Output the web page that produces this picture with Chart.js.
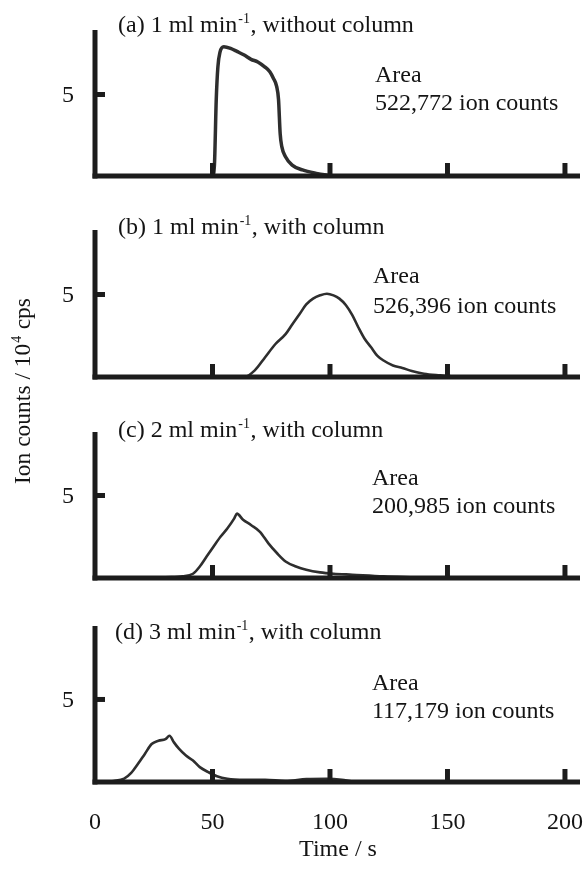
<!DOCTYPE html>
<html><head><meta charset="utf-8">
<script src="https://cdn.jsdelivr.net/npm/chart.js@4.4.1/dist/chart.umd.min.js"></script>
<style>
html,body{margin:0;padding:0;background:#fff;width:587px;height:877px;overflow:hidden;}
canvas{position:absolute;left:0;top:0;}
</style></head><body>
<canvas id="c0" width="587" height="877"></canvas>
<canvas id="c1" width="587" height="877"></canvas>
<canvas id="c2" width="587" height="877"></canvas>
<canvas id="c3" width="587" height="877"></canvas>
<script>
// ---- data ----
const timeTicks = [0, 50, 100, 150, 200];
const yTickValue = 5;
const xTitle = 'Time / s';
const yTitle = ['Ion counts / 10', '4', ' cps'];
const panelTitles = [
  ['(a) 1 ml min', '-1', ', without column'],
  ['(b) 1 ml min', '-1', ', with column'],
  ['(c) 2 ml min', '-1', ', with column'],
  ['(d) 3 ml min', '-1', ', with column']
];
const areaLabels = ['522,772 ion counts', '526,396 ion counts', '200,985 ion counts', '117,179 ion counts'];

const timeA   = [0, 50.0, 50.8, 51.6, 52.3, 53.2, 54.8, 57.7, 60.6, 63.5, 66.4, 69.3, 72.2, 74.4, 75.9, 77.3, 78.1, 78.8, 79.5, 81.0, 83.9, 88.3, 94.2, 98.5, 102, 206];
const countsA = [0, 0,    0.6,  4.7,  6.7,  7.6,  7.93, 7.83, 7.63, 7.42, 7.16, 7.0,  6.7,  6.4,  6.0,  5.5,  4.7,  2.6,  1.8,  1.2,  0.67, 0.37, 0.16, 0.06, 0,   0];

const timeB   = [0, 63.6, 68.0, 72.4, 76.8, 81.1, 84.0, 87.0, 89.9, 92.8, 95.8, 98.7, 101.5, 104.0, 106.8, 109.5, 112.1, 114.8, 117.5, 120.1, 122.8, 126.8, 130.8, 134.8, 140.0, 146.8, 153.0, 160, 206];
const countsB = [0, 0,    0.4,  1.2,  2.0,  2.6,  3.2,  3.8,  4.4,  4.75, 4.95, 5.05, 4.95,  4.75,  4.35,  3.75,  3.0,   2.3,   1.8,   1.3,   1.0,   0.7,   0.55,  0.36,  0.2,   0.1,   0.03,  0,   0];

const timeC   = [0, 25, 30.0, 37.3, 41.7, 44.6, 47.5, 50.4, 53.4, 56.3, 59.2, 60.4, 62.9, 66.5, 70.2, 73.8, 77.5, 81.1, 85.5, 89.9, 95.8, 101.5, 109.5, 122.8, 136, 145, 206];
const countsC = [0, 0,  0.04, 0.1,  0.26, 0.7,  1.3,  1.9,  2.5,  3.0,  3.6,  3.9,  3.55, 3.2,  2.8,  2.1,  1.5,  1.0,  0.7,  0.5,  0.34, 0.26,  0.2,   0.1,   0.04, 0,   0];

const timeD   = [0, 4, 8.0,  12.4, 15.4, 18.3, 21.2, 24.1, 27.0, 30.0, 31.7, 33.6, 35.8, 38.7, 41.7, 44.6, 48.2, 51.9, 56.3, 63.6, 72.4, 81.0, 90.0, 98.7, 105.0, 109.5, 115, 206];
const countsD = [0, 0, 0.06, 0.2,  0.55, 1.1,  1.7,  2.3,  2.5,  2.6,  2.8,  2.4,  2.0,  1.6,  1.3,  0.9,  0.6,  0.35, 0.2,  0.14, 0.14, 0.06, 0.18, 0.2,  0.14,  0.03,  0,   0];

const seriesTimes  = [timeA, timeB, timeC, timeD];
const seriesCounts = [countsA, countsB, countsC, countsD];

// ---- layout (positions/styles) ----
const X_MAX = 206.4;
const panels = [
  {top: 30,  bottom: 176, ymax: 8.96, title: [118, 32],  area: [375, 82, 110], lw: 3.5},
  {top: 230, bottom: 377, ymax: 8.91, title: [118, 234], area: [373, 283, 313], lw: 2.6},
  {top: 432, bottom: 578, ymax: 8.85, title: [118, 437], area: [372, 485, 513], lw: 2.6},
  {top: 626, bottom: 782, ymax: 9.45, title: [115, 639], area: [372, 690, 718], lw: 2.6}
];
const FONT = '"Liberation Serif", "DejaVu Serif", serif';
const FS = 24;
const INK = '#141414';
const AXIS = '#1c1c1c';

function drawRich(ctx, x, y, segs, size, supSize, supRise) {
  ctx.textAlign = 'left';
  ctx.textBaseline = 'alphabetic';
  ctx.font = size + 'px ' + FONT;
  ctx.fillText(segs[0], x, y);
  let w = ctx.measureText(segs[0]).width + 1;
  ctx.font = supSize + 'px ' + FONT;
  ctx.fillText(segs[1], x + w, y - supRise);
  w += ctx.measureText(segs[1]).width + 0.5;
  ctx.font = size + 'px ' + FONT;
  ctx.fillText(segs[2], x + w, y);
}
function richWidth(ctx, segs, size, supSize) {
  ctx.font = size + 'px ' + FONT;
  let w = ctx.measureText(segs[0]).width + 1 + ctx.measureText(segs[2]).width;
  ctx.font = supSize + 'px ' + FONT;
  return w + ctx.measureText(segs[1]).width + 0.5;
}

const framePlugin = {
  id: 'frame',
  afterDatasetsDraw(chart, args, opts) {
    const p = panels[opts.idx];
    const ctx = chart.ctx;
    const xs = chart.scales.x, ys = chart.scales.y;
    const x0 = xs.getPixelForValue(0);
    const yb = ys.getPixelForValue(0);
    const yt = ys.getPixelForValue(p.ymax);
    const xr = xs.getPixelForValue(X_MAX);
    ctx.save();
    ctx.strokeStyle = AXIS;
    ctx.lineWidth = 5;
    ctx.lineCap = 'butt';
    ctx.beginPath(); ctx.moveTo(x0, yt); ctx.lineTo(x0, yb + 2.5); ctx.stroke();
    ctx.beginPath(); ctx.moveTo(x0 - 2.5, yb); ctx.lineTo(xr, yb); ctx.stroke();
    const y5 = ys.getPixelForValue(yTickValue);
    ctx.beginPath(); ctx.moveTo(x0, y5); ctx.lineTo(x0 + 10, y5); ctx.stroke();
    timeTicks.forEach(t => {
      if (t === 0) return;
      const px = xs.getPixelForValue(t);
      ctx.beginPath(); ctx.moveTo(px, yb); ctx.lineTo(px, yb - 13); ctx.stroke();
    });
    ctx.fillStyle = INK;
    ctx.font = FS + 'px ' + FONT;
    ctx.textAlign = 'center'; ctx.textBaseline = 'middle';
    ctx.fillText(String(yTickValue), 68, y5 + 1);
    drawRich(ctx, p.title[0], p.title[1], panelTitles[opts.idx], FS, 14, 9);
    ctx.font = FS + 'px ' + FONT;
    ctx.textAlign = 'left'; ctx.textBaseline = 'alphabetic';
    ctx.fillText('Area', p.area[0], p.area[1]);
    ctx.fillText(areaLabels[opts.idx], p.area[0], p.area[2]);
    if (opts.idx === 3) {
      ctx.textAlign = 'center'; ctx.textBaseline = 'middle';
      timeTicks.forEach(t => {
        ctx.fillText(String(t), xs.getPixelForValue(t), 823);
      });
      ctx.fillText(xTitle, 338, 850);
      ctx.save();
      ctx.translate(22, 391);
      ctx.rotate(-Math.PI / 2);
      const w = richWidth(ctx, yTitle, 23.5, 14);
      ctx.fillStyle = INK;
      drawRich(ctx, -w / 2, 8, yTitle, 23.5, 14, 9);
      ctx.restore();
    }
    ctx.restore();
  }
};

panels.forEach((p, i) => {
  const pts = seriesTimes[i].map((t, k) => ({x: t, y: seriesCounts[i][k]}));
  new Chart(document.getElementById('c' + i), {
    type: 'line',
    data: {datasets: [{
      data: pts,
      borderColor: '#2e2e2e',
      borderWidth: p.lw,
      pointRadius: 0,
      cubicInterpolationMode: 'monotone',
      fill: false
    }]},
    options: {
      responsive: false,
      animation: false,
      events: [],
      layout: {padding: {left: 95, right: 7, top: p.top, bottom: 877 - p.bottom}},
      scales: {
        x: {type: 'linear', min: 0, max: X_MAX, display: false},
        y: {type: 'linear', min: 0, max: p.ymax, display: false}
      },
      plugins: {legend: {display: false}, tooltip: {enabled: false}, frame: {idx: i}}
    },
    plugins: [framePlugin]
  });
});
</script>
</body></html>
